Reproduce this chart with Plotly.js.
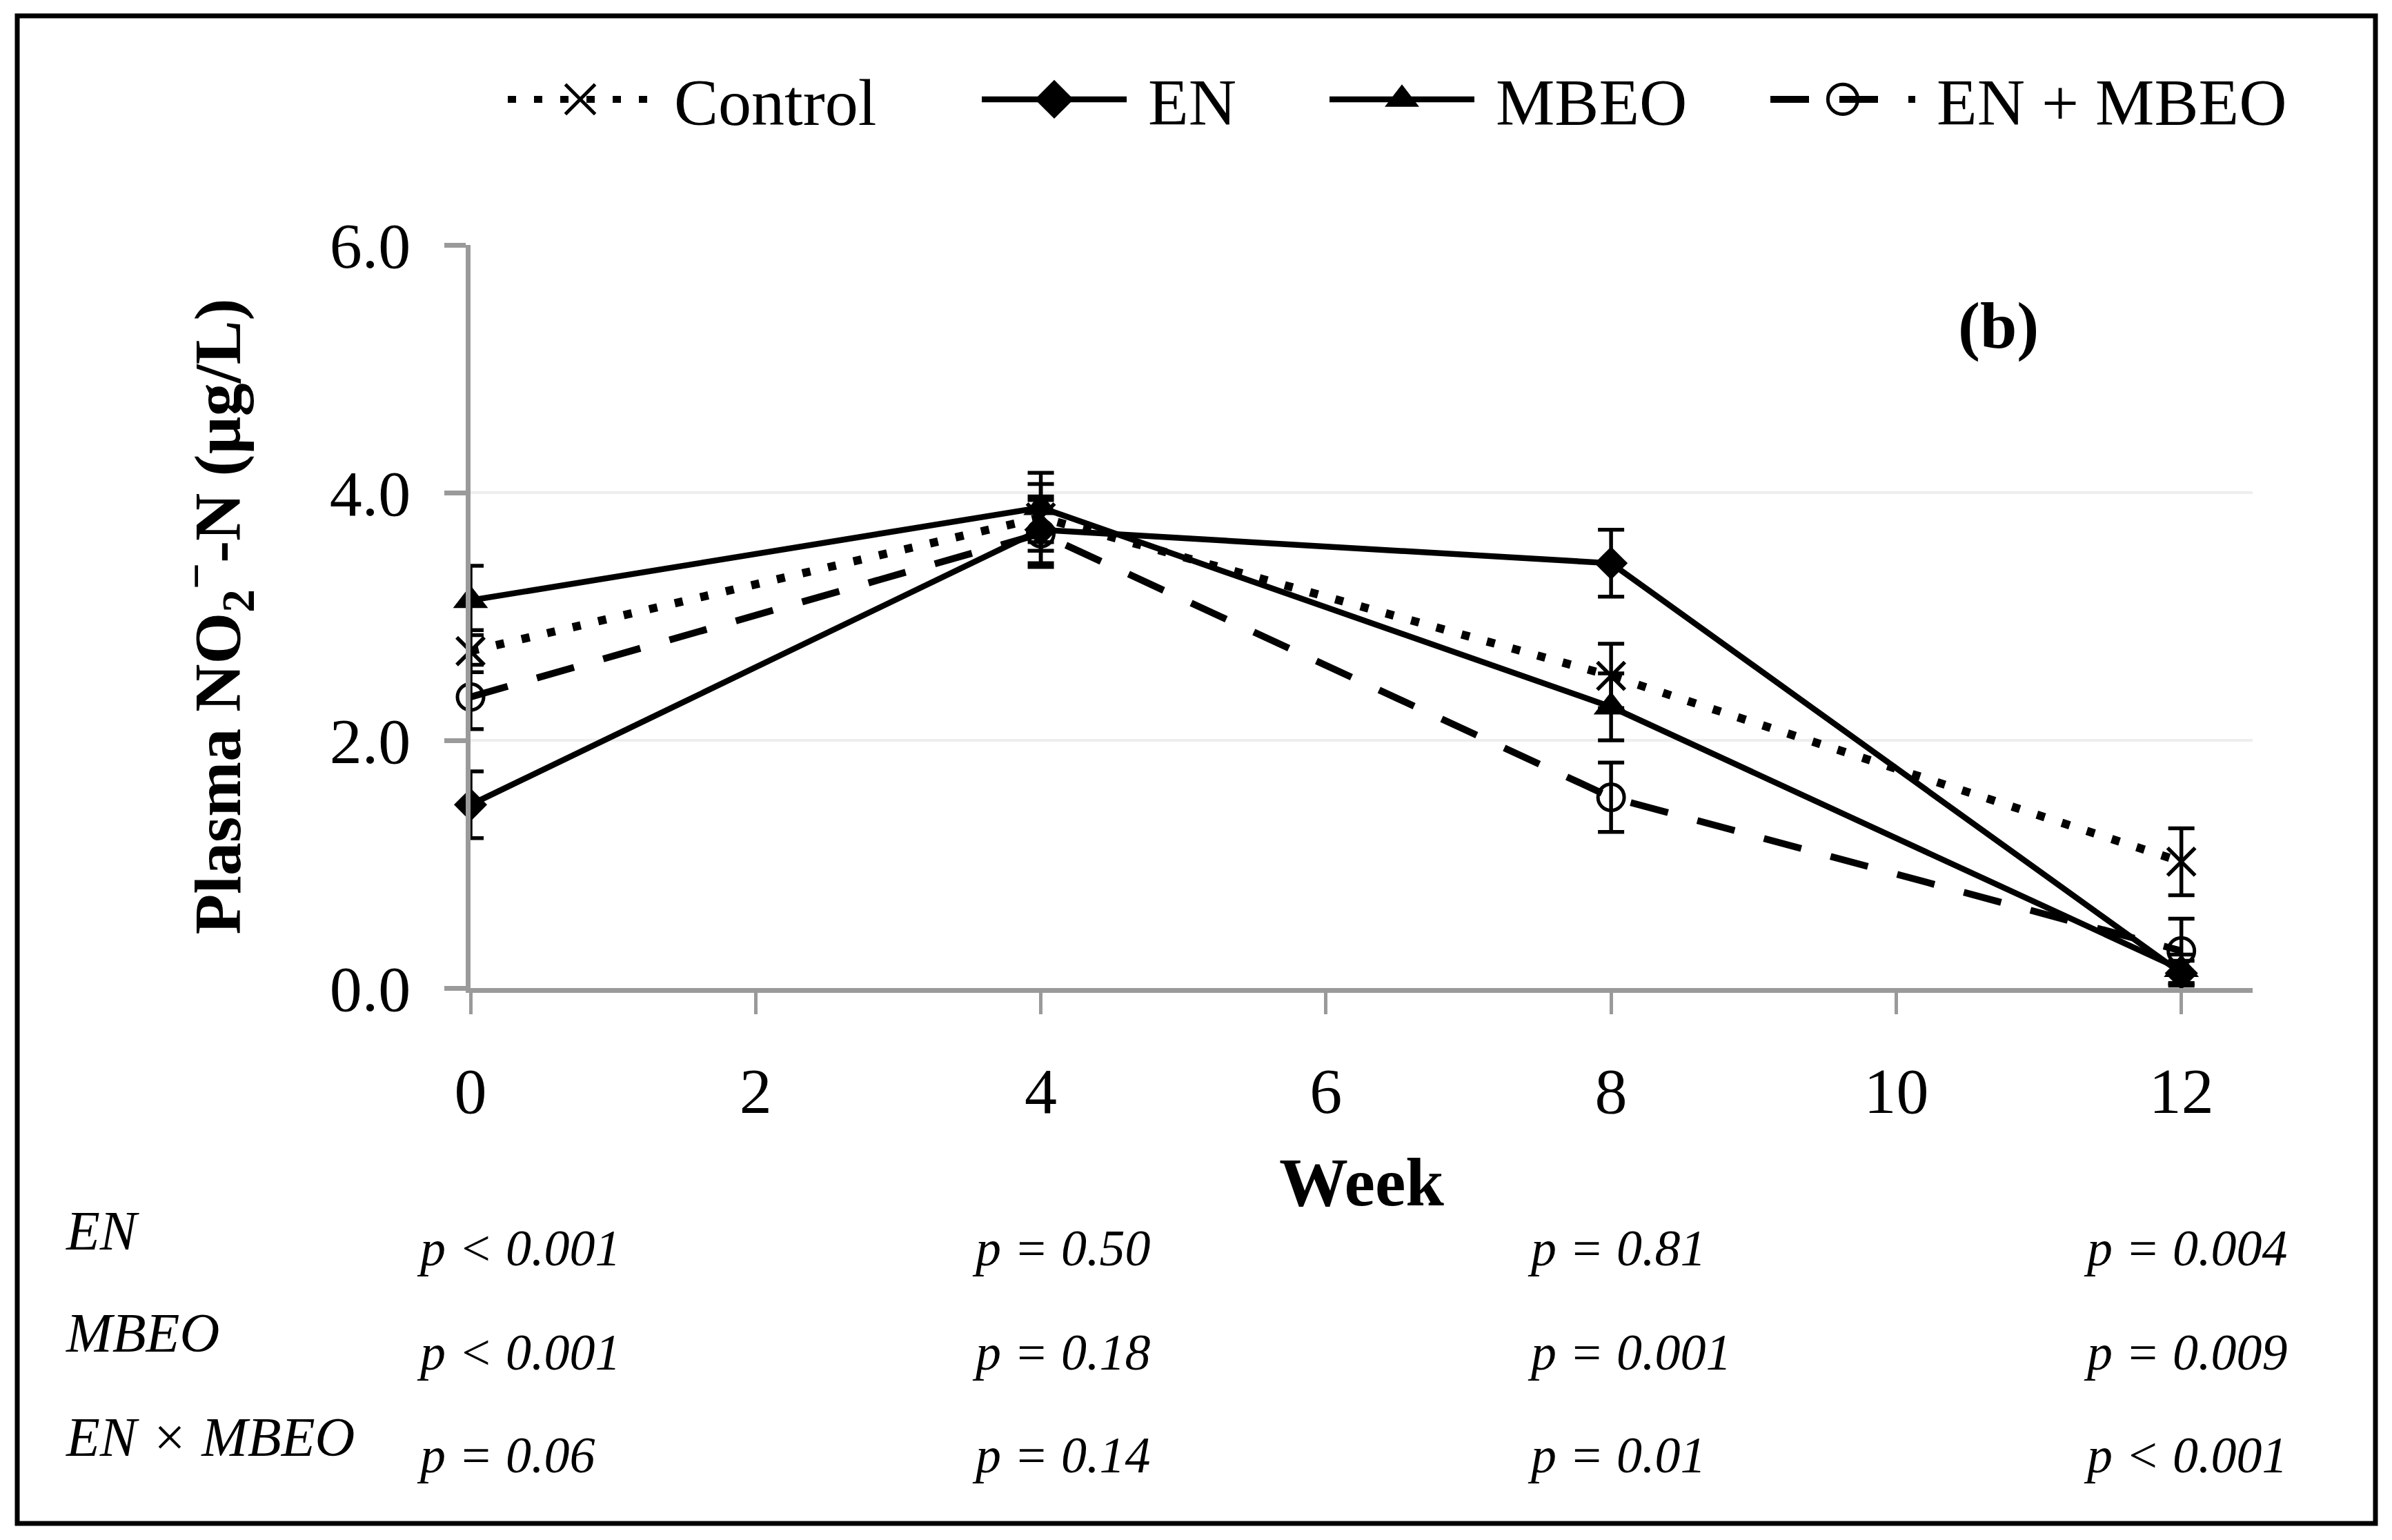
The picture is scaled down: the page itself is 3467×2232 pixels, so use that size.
<!DOCTYPE html>
<html>
<head>
<meta charset="utf-8">
<script src="https://cdn.plot.ly/plotly-3.0.1.min.js"></script>
<style>html,body{margin:0;padding:0;background:#fff;}</style>
</head>
<body>
<div id="chart" style="width:3467px;height:2232px;"></div>
<script>
// ---- data ----
const weeks = [0, 4, 8, 12];
const xTickVals = [0, 2, 4, 6, 8, 10, 12];
const yTickVals = [0, 2, 4, 6];

const seriesNames = ['Control', 'EN', 'MBEO', 'EN + MBEO'];
const control    = [2.72, 3.80, 2.52, 1.02];
const controlErr = [0.17, 0.27, 0.26, 0.27];
const en         = [1.48, 3.70, 3.43, 0.12];
const enErr      = [0.27, 0.27, 0.27, 0.10];
const mbeo       = [3.13, 3.88, 2.27, 0.15];
const mbeoErr    = [0.28, 0.28, 0.27, 0.12];
const enMbeo     = [2.35, 3.67, 1.54, 0.30];
const enMbeoErr  = [0.26, 0.27, 0.28, 0.26];

const rowLabels = ['EN', 'MBEO', 'EN × MBEO'];
const pEN    = ['p < 0.001', 'p = 0.50', 'p = 0.81', 'p = 0.004'];
const pMBEO  = ['p < 0.001', 'p = 0.18', 'p = 0.001', 'p = 0.009'];
const pInter = ['p = 0.06', 'p = 0.14', 'p = 0.01', 'p < 0.001'];

// ---- geometry ----
const W = 3467, H = 2232;
const M = {l: 682, r: 202, t: 355, b: 800};
const PW = W - M.l - M.r, PH = H - M.t - M.b;
const px2x = p => (p - M.l) / PW;
const px2y = p => (H - M.b - p) / PH;

const FONT = 'Liberation Serif, Times New Roman, serif';

function errs(arr) {
  return {type: 'data', array: arr, visible: true, color: '#000', thickness: 5.5, width: 19};
}

const traces = [
  {x: weeks, y: control, name: seriesNames[0], mode: 'lines+markers', legend: 'legend',
   line: {color: '#000', width: 12, dash: '12px,26px'},
   marker: {symbol: 'x-thin-open', size: 40, color: '#000', line: {color: '#000', width: 5.5}},
   error_y: errs(controlErr), cliponaxis: false},
  {x: weeks, y: en, name: seriesNames[1], mode: 'lines+markers', legend: 'legend2',
   line: {color: '#000', width: 8.5},
   marker: {symbol: 'diamond', size: 37, color: '#000'},
   error_y: errs(enErr), cliponaxis: false},
  {x: weeks, y: mbeo, name: seriesNames[2], mode: 'lines+markers', legend: 'legend3',
   line: {color: '#000', width: 8.5},
   marker: {symbol: 'triangle-up', size: 44, color: '#000'},
   error_y: errs(mbeoErr), cliponaxis: false},
  {x: weeks, y: enMbeo, name: seriesNames[3], mode: 'lines+markers', legend: 'legend4',
   line: {color: '#000', width: 10, dash: '56px,44px'},
   marker: {symbol: 'circle-open', size: 38, color: '#000', line: {color: '#000', width: 5}},
   error_y: errs(enMbeoErr), cliponaxis: false}
];

function legendAt(xpx) {
  return {x: px2x(xpx), y: px2y(144), xanchor: 'left', yanchor: 'middle',
          orientation: 'h', bgcolor: 'rgba(0,0,0,0)', borderwidth: 0,
          font: {family: FONT, size: 96, color: '#000'}, itemwidth: 236};
}

const annotations = [];
annotations.push({xref: 'paper', yref: 'paper', x: px2x(2896), y: px2y(471),
  text: '<b>(b)</b>', showarrow: false, xanchor: 'center', yanchor: 'middle',
  font: {family: FONT, size: 96, color: '#000'}});

const rowLabelY = [1784, 1932, 2083];
const rowValY = [1809, 1960, 2109];
const colX = [602, 1407, 2212, 3018];
const rows = [pEN, pMBEO, pInter];
rowLabels.forEach((lab, i) => {
  annotations.push({xref: 'paper', yref: 'paper', x: px2x(93), y: px2y(rowLabelY[i]),
    text: '<i>' + lab + '</i>', showarrow: false, xanchor: 'left', yanchor: 'middle',
    font: {family: FONT, size: 80, color: '#000'}});
  rows[i].forEach((t, j) => {
    annotations.push({xref: 'paper', yref: 'paper', x: px2x(colX[j]), y: px2y(rowValY[i]),
      text: '<i>' + t + '</i>', showarrow: false, xanchor: 'left', yanchor: 'middle',
      font: {family: FONT, size: 74, color: '#000'}});
  });
});

const layout = {
  width: W, height: H, margin: M,
  paper_bgcolor: '#fff', plot_bgcolor: '#fff',
  font: {family: FONT, color: '#000'},
  showlegend: true,
  xaxis: {range: [0, 12.5], tickvals: xTickVals, ticktext: xTickVals.map(String),
    showgrid: false, zeroline: false, showline: true, linecolor: '#9a9a9a', linewidth: 7,
    ticks: 'outside', ticklen: 31, tickwidth: 5, tickcolor: '#9a9a9a',
    tickfont: {family: FONT, size: 94, color: '#000'}, ticklabelstandoff: 30,
    title: {text: '<b>Week</b>', font: {family: FONT, size: 100, color: '#000'}, standoff: 48}},
  yaxis: {range: [0, 6], tickvals: yTickVals, ticktext: yTickVals.map(v => v.toFixed(1)),
    showgrid: true, gridcolor: '#eeeeee', gridwidth: 4, zeroline: false,
    showline: true, linecolor: '#9a9a9a', linewidth: 7,
    ticks: 'outside', ticklen: 31, tickwidth: 7, tickcolor: '#9a9a9a',
    tickfont: {family: FONT, size: 94, color: '#000'}, ticklabelstandoff: 30,
    title: {text: '<b>Plasma NO<sub>2</sub><sup>−</sup>-N (µg/L)</b>', font: {family: FONT, size: 96, color: '#000'}, standoff: 100}},
  legend: legendAt(731),
  legend2: legendAt(1418),
  legend3: legendAt(1922),
  legend4: legendAt(2561),
  annotations: annotations,
  shapes: [{type: 'rect', xref: 'paper', yref: 'paper',
    x0: px2x(25), x1: px2x(3443), y0: px2y(23), y1: px2y(2208),
    line: {color: '#000', width: 7}, fillcolor: 'rgba(0,0,0,0)', layer: 'above'}]
};

Plotly.newPlot('chart', traces, layout, {displayModeBar: false, staticPlot: true}).then(gd => {
  // legend symbols are capped in size by Plotly; enlarge them and leave a small gap before the text
  const SHORTEN = 26;
  gd.querySelectorAll('.legendlines path').forEach(p => {
    const d = p.getAttribute('d') || '';
    p.setAttribute('d', d.replace(/h([\d.]+)/, (m, n) => 'h' + Math.max(10, parseFloat(n) - SHORTEN)));
  });
  gd.querySelectorAll('.legendpoints path.scatterpts').forEach(p => {
    const t = p.getAttribute('transform') || '';
    p.setAttribute('transform', 'translate(' + (-SHORTEN / 2) + ',0) ' + t + ' scale(2.7)');
    p.style.vectorEffect = 'non-scaling-stroke';
  });
});
</script>
</body>
</html>
